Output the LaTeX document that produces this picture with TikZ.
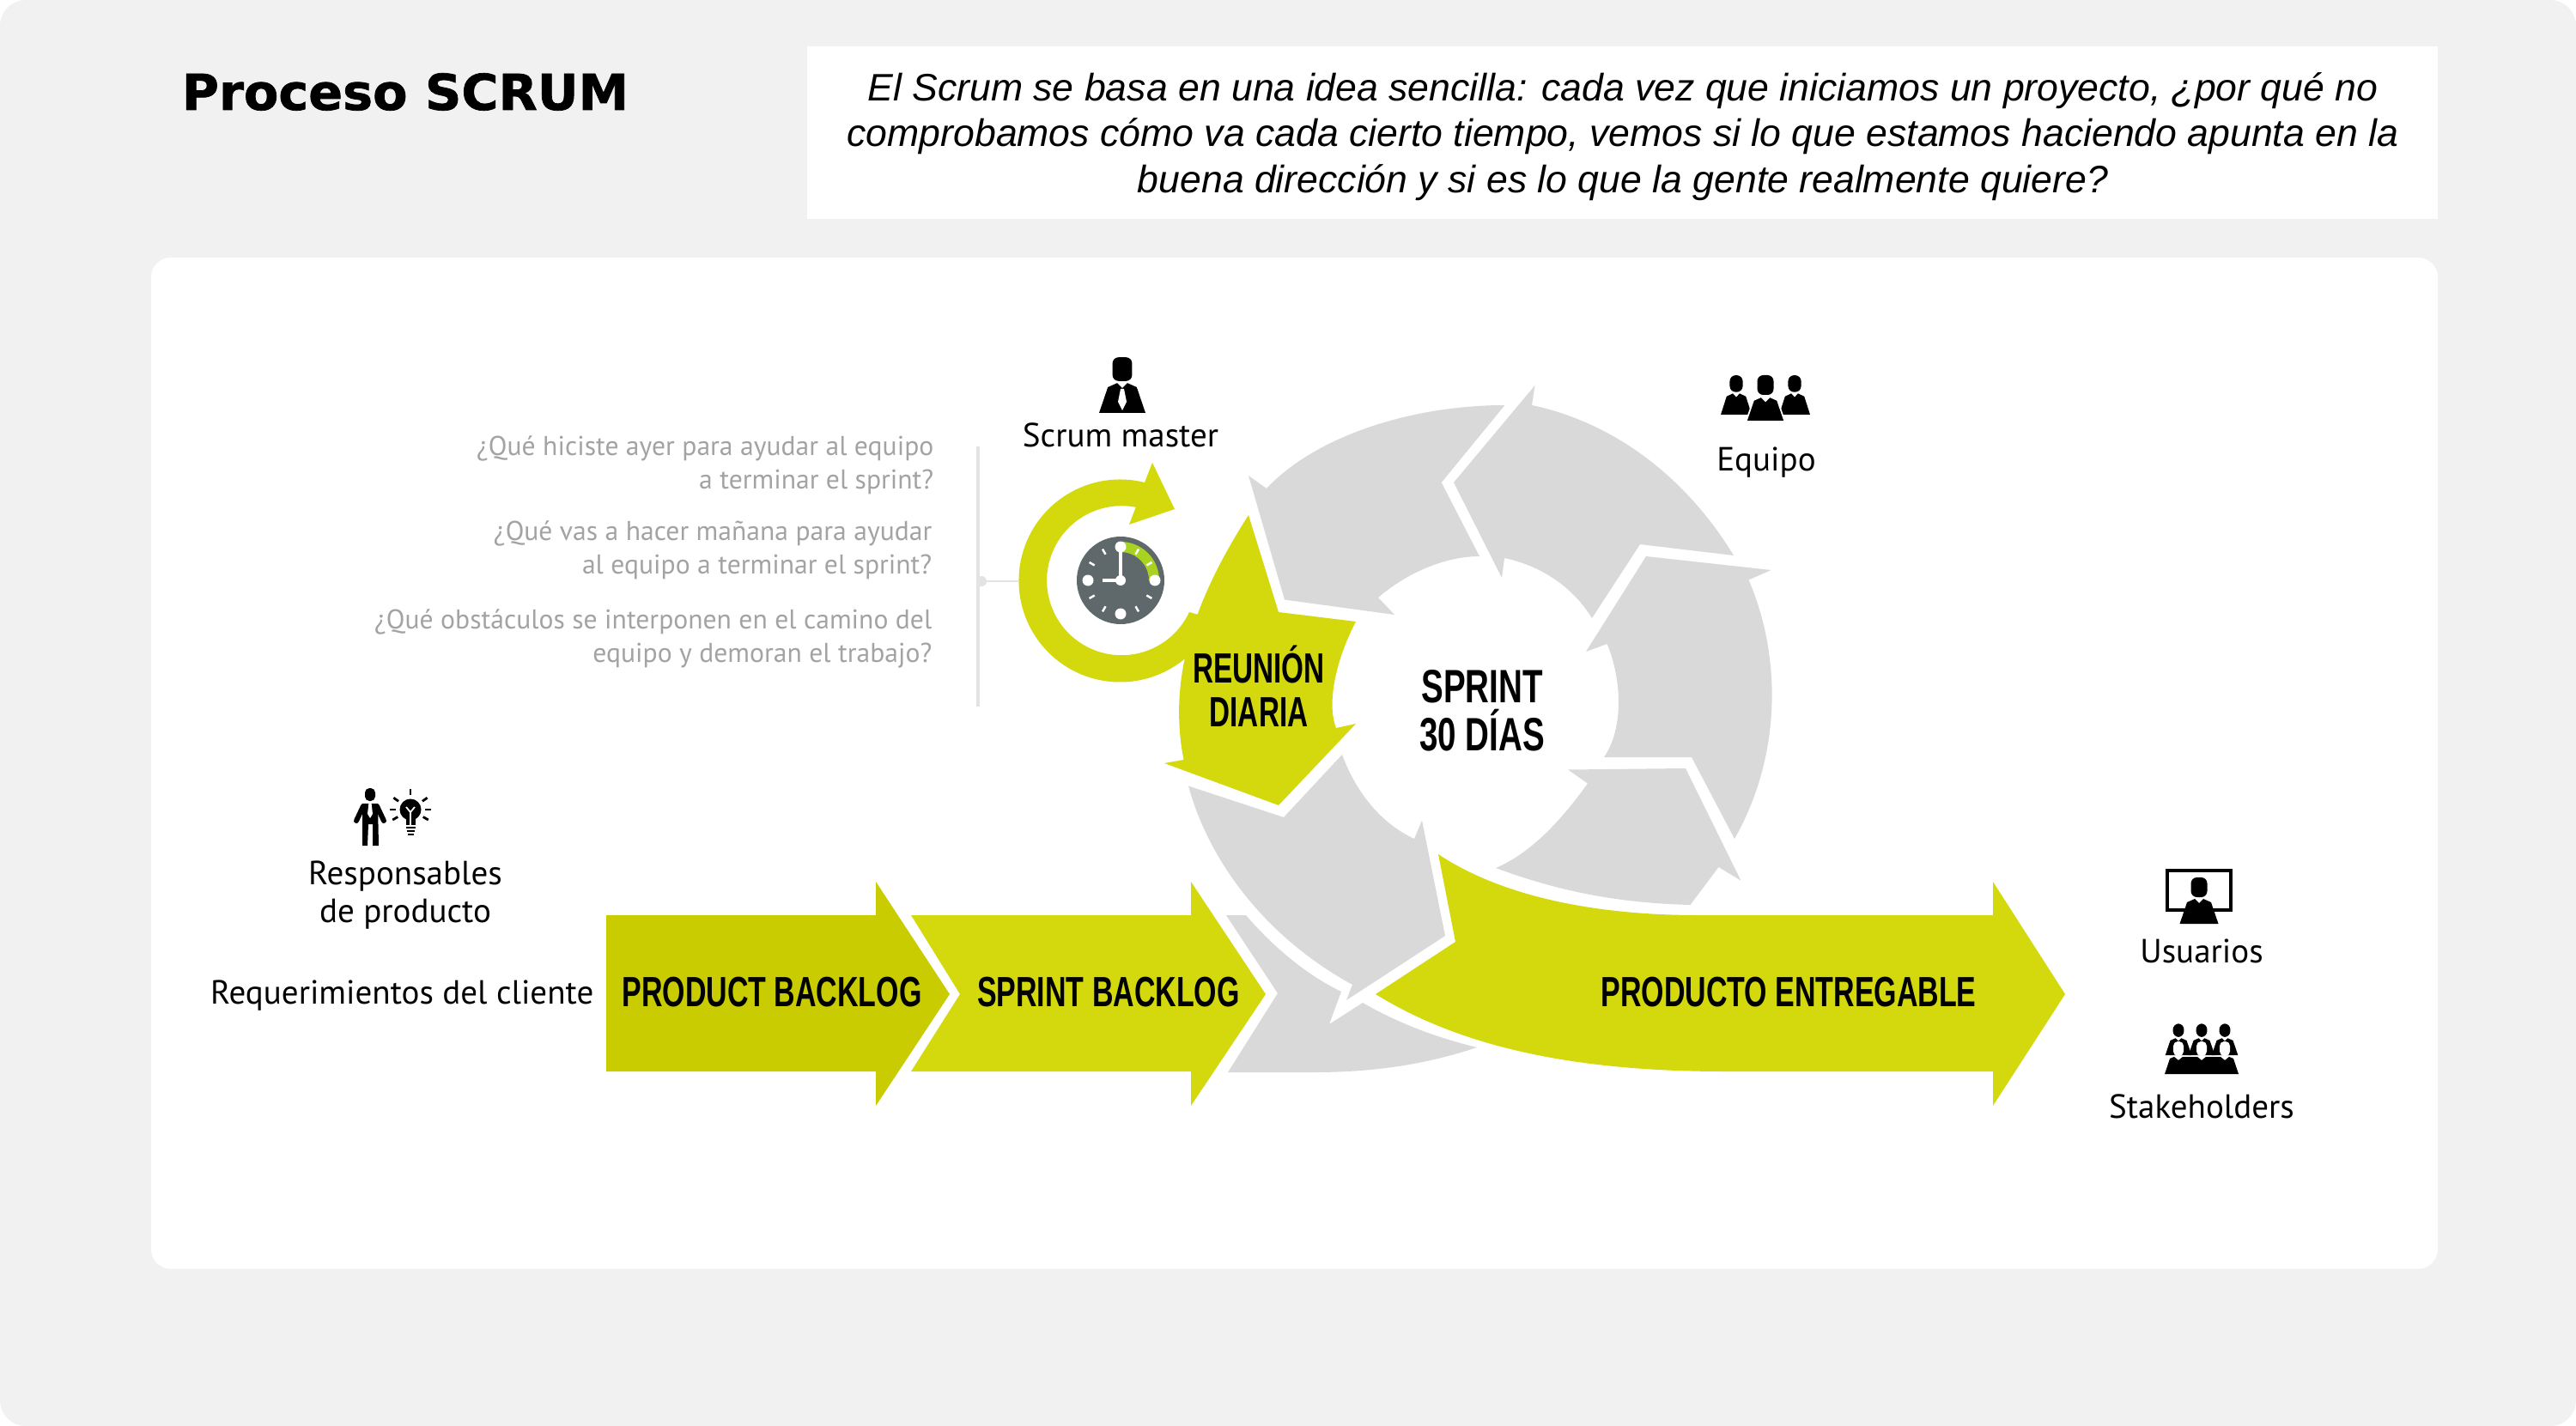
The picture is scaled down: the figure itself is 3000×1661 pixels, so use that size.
\documentclass[tikz,border=0pt]{standalone}
\usepackage{tikz}
\usepackage{xcolor}
\usepackage{fontspec}
\setmainfont{Liberation Sans}
\newfontfamily\labelfont{PT Sans}
\newfontfamily\headfont[BoldFeatures={FakeBold=1.2}]{DejaVu Sans}
\definecolor{scrumBack}{HTML}{F1F1F1}
\definecolor{scrumGrey}{HTML}{D9D9D9}
\definecolor{scrumLime}{HTML}{D4D90E}
\definecolor{scrumOlive}{HTML}{C9CC00}
\definecolor{scrumText}{HTML}{A3A3A3}
\definecolor{scrumRule}{HTML}{E3E3E3}
\definecolor{clockFace}{HTML}{5F696B}
\definecolor{clockBand}{HTML}{A9D321}
\tikzset{
  greyarrow/.style={fill=scrumGrey, draw=none},
  limearrow/.style={fill=scrumLime, draw=none},
  narrowlabel/.style={font=\fontsize{14}{14.5}\selectfont\bfseries, xscale=0.69, align=center, inner sep=0pt},
  bodylabel/.style={font=\labelfont\fontsize{11.1}{12.5}\selectfont, align=center, inner sep=0pt},
  questionlabel/.style={font=\labelfont\fontsize{9}{11.1}\selectfont, text=scrumText, align=right, inner sep=0pt, anchor=east},
  clocktick/.style={draw=white, line width=0.7pt},
  clockdot/.style={fill=white, draw=none},
  personicon/.pic={
    \fill[rounded corners=2pt] (-9.5,-54) rectangle (9.5,-31);
    \path[fill=black, pic actions] (-22.5,0) -- (-14,-25) -- (-5,-29) -- (0,-24) -- (5,-29) -- (14,-25) -- (22.5,0) -- cycle;
  }
}

\begin{document}
\begin{tikzpicture}[x=0.01cm, y=-0.01cm]
  \useasboundingbox (0,0) rectangle (3000,1661);
  \fill[scrumBack, rounded corners=8.5pt] (0,0) rectangle (3000,1661);
  \fill[white, rounded corners=6.5pt] (176,300) rectangle (2839,1478);
  \fill[white] (940,54) rectangle (2839,255);

  \node[inner sep=0pt, font=\headfont\fontsize{16.4}{20}\selectfont\bfseries, xscale=1.02] (title) at (472,107) {Proceso SCRUM};
  \node[inner sep=0pt, align=center, font=\fontsize{12.68}{15.25}\selectfont\itshape] (intro) at (1890,159) {El Scrum se basa en una idea sencilla: cada vez que iniciamos un proyecto, ¿por qué no\\comprobamos cómo va cada cierto tiempo, vemos si lo que estamos haciendo apunta en la\\buena dirección y si es lo que la gente realmente quiere?};

  % grey ring
  \path[greyarrow] (1693,562) -- (1787.5,449) -- (1784,472) .. controls (1879,492) and (1963,555) .. (2019,647) -- (1910,634) -- (1854,720) .. controls (1830,681) and (1791,658) .. (1752,650) -- (1749,673) -- cycle;
  \path[greyarrow] (1917,648) -- (2062.5,664) -- (2036.5,675.5) .. controls (2075,765) and (2075,880) .. (2020,977) -- (1970,882) -- (1868,882) .. controls (1890,850) and (1890,795) .. (1871.6,750) -- (1847,759) -- cycle;
  \path[greyarrow] (1963,895) -- (1826,896.5) -- (1849,912.6) .. controls (1815,960) and (1780,995) .. (1742,1011) .. controls (1820,1040) and (1890,1052) .. (1968.5,1054) -- (2001.5,1010) -- (2027.4,1025.7) -- cycle;
  \path[greyarrow] (1496,698.5) -- (1454,554) -- (1475,569) .. controls (1530,510) and (1640,472) .. (1752.4,472) -- (1678.7,562) -- (1723,648) .. controls (1680,648) and (1635,670) .. (1605,696) -- (1624,716) -- cycle;
  \path[greyarrow] (1683,1090) -- (1656,955.6) -- (1647,977) .. controls (1610,960) and (1580,925) .. (1563,879) -- (1495,952) -- (1384,915.5) .. controls (1410,1010) and (1480,1095) .. (1575,1147) -- (1568,1165) -- cycle;
  \path[greyarrow] (1428,1066) -- (1451,1066) .. controls (1480,1100) and (1520,1135) .. (1562,1155) -- (1548,1193) -- (1587,1168) .. controls (1625,1190) and (1670,1208) .. (1720,1220) .. controls (1660,1240) and (1600,1249) .. (1530,1249) -- (1430,1249) -- (1488,1157) -- cycle;

  % lime arrows
  \path[limearrow] (1333,562) arc[start angle=-76, end angle=-325, radius=118] -- (1410,720) -- (1385,713) arc[start angle=-335, end angle=-79, radius=87] -- (1315,611) -- (1368,593) -- (1342,539) -- cycle;
  \path[limearrow] (1454,600) -- (1489,713) -- (1579,724) .. controls (1555,770) and (1545,820) .. (1556,848) -- (1579,843) -- (1489,938) -- (1356,889) -- (1378.5,885) .. controls (1360,790) and (1390,700) .. (1454,600) -- cycle;
  \path[limearrow] (1602,1158) -- (1695,1097) -- (1675,995) .. controls (1750,1045) and (1860,1066) .. (1977,1066) -- (2321,1066) -- (2321,1027) -- (2405,1158) -- (2321,1288) -- (2321,1248) -- (2009,1248) .. controls (1850,1248) and (1710,1225) .. (1602,1158) -- cycle;
  \fill[scrumOlive] (706,1066) -- (1020,1066) -- (1020,1027) -- (1106,1158) -- (1020,1288) -- (1020,1248) -- (706,1248) -- cycle;
  \path[limearrow] (1061,1066) -- (1387,1066) -- (1387,1027) -- (1474,1158) -- (1387,1288) -- (1387,1248) -- (1061,1248) -- (1118,1158) -- cycle;

  \node[narrowlabel] (productbacklog) at (899,1156) {PRODUCT BACKLOG};
  \node[narrowlabel] (sprintbacklog) at (1291,1156) {SPRINT BACKLOG};
  \node[narrowlabel] (entregable) at (2083,1156) {PRODUCTO ENTREGABLE};
  \node[narrowlabel, xscale=0.98] (reunion) at (1466,799) {REUNIÓN\\DIARIA};
  \node[narrowlabel, font=\fontsize{15.5}{16}\selectfont\bfseries, xscale=1.025] (sprint) at (1726,828) {SPRINT\\30 DÍAS};

  % clock
  \coordinate (clockcenter) at (1305,676);
  \fill[clockFace] (clockcenter) circle[radius=51];
  \fill[clockBand] (1305,631) arc[start angle=-90, end angle=0, radius=45] -- (1338,676) arc[start angle=0, end angle=-90, radius=33] -- cycle;
  \draw[clocktick] ([shift={(-60:35)}]clockcenter) -- ([shift={(-60:42)}]clockcenter);
  \draw[clocktick] ([shift={(-30:35)}]clockcenter) -- ([shift={(-30:42)}]clockcenter);
  \draw[clocktick] ([shift={(30:35)}]clockcenter) -- ([shift={(30:42)}]clockcenter);
  \draw[clocktick] ([shift={(60:35)}]clockcenter) -- ([shift={(60:42)}]clockcenter);
  \draw[clocktick] ([shift={(120:35)}]clockcenter) -- ([shift={(120:42)}]clockcenter);
  \draw[clocktick] ([shift={(150:35)}]clockcenter) -- ([shift={(150:42)}]clockcenter);
  \draw[clocktick] ([shift={(210:35)}]clockcenter) -- ([shift={(210:42)}]clockcenter);
  \draw[clocktick] ([shift={(240:35)}]clockcenter) -- ([shift={(240:42)}]clockcenter);
  \fill[clockdot] (1305,637) circle[radius=6.5];
  \fill[clockdot] (1345,676) circle[radius=6.5];
  \fill[clockdot] (1305,715) circle[radius=6.5];
  \fill[clockdot] (1267,676) circle[radius=6.5];
  \fill[clockdot] (clockcenter) circle[radius=6];
  \draw[white, line width=1.4pt] (1305,637) -- (clockcenter) -- (1284,676);

  % question block
  \coordinate (ruletop) at (1139,520);
  \coordinate (rulebottom) at (1139,823);
  \coordinate (rulejoint) at (1143,677);
  \coordinate (ringleft) at (1187,677);
  \draw[scrumRule, line width=1.4pt] (ruletop) -- (rulebottom);
  \draw[scrumRule, line width=0.6pt] (rulejoint) -- (ringleft);
  \fill[scrumRule] (rulejoint) circle[radius=6];
  \node[questionlabel] (questionone) at (1088,542) {¿Qué hiciste ayer para ayudar al equipo\\a terminar el sprint?};
  \node[questionlabel] (questiontwo) at (1086,641) {¿Qué vas a hacer mañana para ayudar\\al equipo a terminar el sprint?};
  \node[questionlabel] (questionthree) at (1086,744) {¿Qué obstáculos se interponen en el camino del\\equipo y demoran el trabajo?};

  % scrum master
  \pic[scale=1.2] (mastericon) at (1307,481) {personicon};
  \fill[white] (1305,453) -- (1302,468) -- (1307,478) -- (1312,468) -- (1309,453) -- cycle;
  \node[bodylabel] (master) at (1305,507) {Scrum master};

  % team
  \pic[xscale=0.8, yscale=0.85] (teamleft) at (2022,483) {personicon};
  \pic[xscale=0.8, yscale=0.85] (teamright) at (2090,483) {personicon};
  \pic[draw=white, line width=0.5pt] (teammiddle) at (2056,491) {personicon};
  \node[bodylabel] (team) at (2057,539) {Equipo};

  % product owner
  \fill[rounded corners=1.5pt] (425,918) rectangle (437,933);
  \fill (422,936) -- (440,936) -- (441,985) -- (434,985) -- (434,960) -- (429,960) -- (428,985) -- (422,985) -- cycle;
  \draw[line width=1.7pt, line cap=round] (423,939) -- (415,956);
  \draw[line width=1.7pt, line cap=round] (439,939) -- (447,956);
  \fill[white] (429.5,935) -- (432.5,935) -- (434,948) -- (431,953) -- (428,948) -- cycle;
  \coordinate (bulbcenter) at (478,943);
  \fill (bulbcenter) circle[radius=12.5];
  \fill (473,950) rectangle (484,961);
  \draw[white, line width=0.5pt] (478,961) -- (478,946) -- (473,940);
  \draw[white, line width=0.5pt] (478,946) -- (483,940);
  \draw[line width=0.7pt] (473,964) -- (484,964);
  \draw[line width=0.7pt] (474,968) -- (483,968);
  \draw[line width=0.7pt] (475,972) -- (482,972);
  \draw[line width=0.8pt] ([shift={(-90:17)}]bulbcenter) -- ([shift={(-90:24)}]bulbcenter);
  \draw[line width=0.8pt] ([shift={(-35:17)}]bulbcenter) -- ([shift={(-35:24)}]bulbcenter);
  \draw[line width=0.8pt] ([shift={(-145:17)}]bulbcenter) -- ([shift={(-145:24)}]bulbcenter);
  \draw[line width=0.8pt] ([shift={(0:17)}]bulbcenter) -- ([shift={(0:24)}]bulbcenter);
  \draw[line width=0.8pt] ([shift={(180:17)}]bulbcenter) -- ([shift={(180:24)}]bulbcenter);
  \draw[line width=0.8pt] ([shift={(30:17)}]bulbcenter) -- ([shift={(30:24)}]bulbcenter);
  \draw[line width=0.8pt] ([shift={(150:17)}]bulbcenter) -- ([shift={(150:24)}]bulbcenter);
  \node[bodylabel] (owner) at (472,1043) {Responsables\\de producto};
  \node[bodylabel, anchor=east] (requirements) at (692,1160) {Requerimientos del cliente};

  % users
  \draw[line width=1.2pt] (2524,1014) rectangle (2598,1060);
  \pic (usersicon) at (2561,1076) {personicon};
  \node[bodylabel] (users) at (2564,1108) {Usuarios};

  % stakeholders
  \pic[scale=0.68] (stakeleft) at (2537,1229) {personicon};
  \pic[scale=0.68] (stakemiddle) at (2564,1229) {personicon};
  \pic[scale=0.68] (stakeright) at (2591,1229) {personicon};
  \fill[white, rounded corners=1.5pt] (2531,1213) rectangle (2543,1230);
  \fill[white, rounded corners=1.5pt] (2558,1213) rectangle (2570,1230);
  \fill[white, rounded corners=1.5pt] (2585,1213) rectangle (2597,1230);
  \fill (2521,1251) -- (2527,1233) -- (2532,1231) -- (2537,1235) -- (2542,1231) -- (2559,1231) -- (2564,1235) -- (2569,1231) -- (2586,1231) -- (2591,1235) -- (2596,1231) -- (2601,1233) -- (2607,1251) -- cycle;
  \node[bodylabel] (stakeholders) at (2564,1289) {Stakeholders};
\end{tikzpicture}
\end{document}
